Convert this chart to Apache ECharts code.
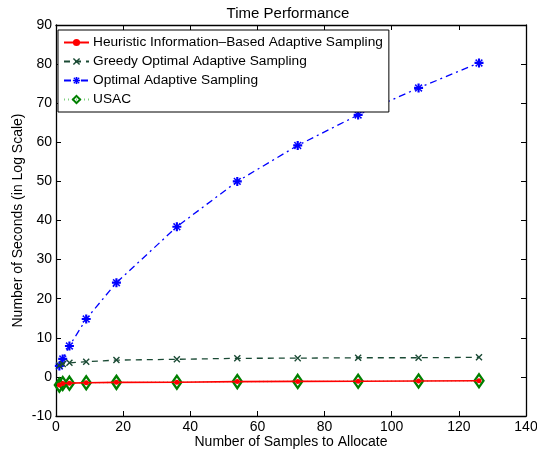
<!DOCTYPE html>
<html>
<head>
<meta charset="utf-8">
<script src="https://cdn.jsdelivr.net/npm/echarts@6/dist/echarts.min.js"></script>
<style>
html,body{margin:0;padding:0;background:#fff;}
#c{width:537px;height:453px;}
</style>
</head>
<body>
<div id="c"></div>
<script>
var samples = [1, 2, 4, 9, 18, 36, 54, 72, 90, 108, 126];
var heuristic = [-2.1, -1.7, -1.6, -1.5, -1.4, -1.35, -1.2, -1.15, -1.1, -1.05, -1.0];
var greedy = [2.9, 3.3, 3.6, 3.9, 4.3, 4.5, 4.75, 4.8, 4.9, 4.9, 5.0];
var optimal = [2.8, 4.6, 7.9, 14.8, 24.1, 38.4, 50.0, 59.2, 67.0, 73.9, 80.3];
var usac = [-2.1, -1.7, -1.6, -1.5, -1.4, -1.35, -1.2, -1.15, -1.1, -1.05, -1.0];
var seriesNames = ['Heuristic Information\u2013Based Adaptive Sampling', 'Greedy Optimal Adaptive Sampling', 'Optimal Adaptive Sampling', 'USAC'];
var xTicks = [0, 20, 40, 60, 80, 100, 120, 140];
var yTicks = [-10, 0, 10, 20, 30, 40, 50, 60, 70, 80, 90];

function pairs(ys) { return samples.map(function (x, i) { return [x, ys[i]]; }); }

var FONT = 'Liberation Sans, Arial, Helvetica, sans-serif';
var asterisk = 'path://M38,0H62V30L80,6L94,20L70,38H100V62H70L94,80L80,94L62,70V100H38V70L20,94L6,80L30,62H0V38H30L6,20L20,6L38,30Z';
var xmark = 'path://M14,0L50,36L86,0L100,14L64,50L100,86L86,100L50,64L14,100L0,86L36,50L0,14Z';

function axisBase() {
  return {
    axisLine: { show: true, onZero: false, lineStyle: { color: '#000', width: 1.3 } },
    axisTick: { show: true, inside: true, length: 5, lineStyle: { color: '#000', width: 1 } },
    splitLine: { show: false },
    axisLabel: { color: '#000', fontFamily: FONT, fontSize: 14, margin: 4 }
  };
}

var chart = echarts.init(document.getElementById('c'), null, { renderer: 'canvas' });
chart.setOption({
  animation: false,
  backgroundColor: '#fff',
  title: {
    text: 'Time Performance', left: 283, top: 1, textAlign: 'center',
    textStyle: { fontFamily: FONT, fontSize: 15, fontWeight: 'normal', color: '#000' }
  },
  grid: { left: 56, right: 11, top: 25, bottom: 37, containLabel: false, outerBoundsMode: 'none' },
  legend: {
    orient: 'vertical', left: 58, top: 30,
    data: seriesNames,
    backgroundColor: '#fff', borderColor: '#000', borderWidth: 1,
    padding: [5, 6, 5, 5], itemGap: 4, itemWidth: 25, itemHeight: 9,
    textStyle: { fontFamily: FONT, fontSize: 13.7, lineHeight: 15, color: '#000', padding: [0, 0, 0, -1] }
  },
  xAxis: [
    Object.assign(axisBase(), {
      type: 'value', min: 0, max: 140, interval: 20, position: 'bottom',
      name: 'Number of Samples to Allocate', nameLocation: 'middle', nameGap: 19, nameMoveOverlap: false,
      nameTextStyle: { fontFamily: FONT, fontSize: 14, color: '#000' }
    }),
    Object.assign(axisBase(), {
      type: 'value', min: 0, max: 140, interval: 20, position: 'top',
      axisLabel: { show: false }
    })
  ],
  yAxis: [
    Object.assign(axisBase(), {
      type: 'value', min: -10, max: 90, interval: 10, position: 'left',
      name: 'Number of Seconds (in Log Scale)', nameLocation: 'middle', nameGap: 31, nameMoveOverlap: false,
      nameTextStyle: { fontFamily: FONT, fontSize: 14, color: '#000' }
    }),
    Object.assign(axisBase(), {
      type: 'value', min: -10, max: 90, interval: 10, position: 'right',
      axisLabel: { show: false }
    })
  ],
  series: [
    {
      name: seriesNames[3], type: 'line', data: pairs(usac), z: 2,
      symbol: 'diamond', symbolSize: [9, 13], showAllSymbol: true,
      lineStyle: { color: '#7fd07f', width: 1.3, type: [1, 3] },
      itemStyle: { color: 'rgba(255,255,255,0)', borderColor: '#008000', borderWidth: 2.4 }
    },
    {
      name: seriesNames[0], type: 'line', data: pairs(heuristic), z: 5,
      symbol: 'circle', symbolSize: 5, showAllSymbol: true,
      lineStyle: { color: '#ff0000', width: 1.6 },
      itemStyle: { color: '#ff0000', borderWidth: 0 }
    },
    {
      name: seriesNames[1], type: 'line', data: pairs(greedy), z: 4,
      symbol: xmark, symbolSize: 7, showAllSymbol: true,
      lineStyle: { color: '#1a4a34', width: 1.3, type: [6, 5] },
      itemStyle: { color: '#1a4a34', borderWidth: 0 }
    },
    {
      name: seriesNames[2], type: 'line', data: pairs(optimal), z: 3,
      symbol: asterisk, symbolSize: 9, showAllSymbol: true,
      lineStyle: { color: '#0000ff', width: 1.3, type: [7, 4, 2, 4] },
      itemStyle: { color: '#0000ff', borderWidth: 0 }
    }
  ]
});
</script>
</body>
</html>
